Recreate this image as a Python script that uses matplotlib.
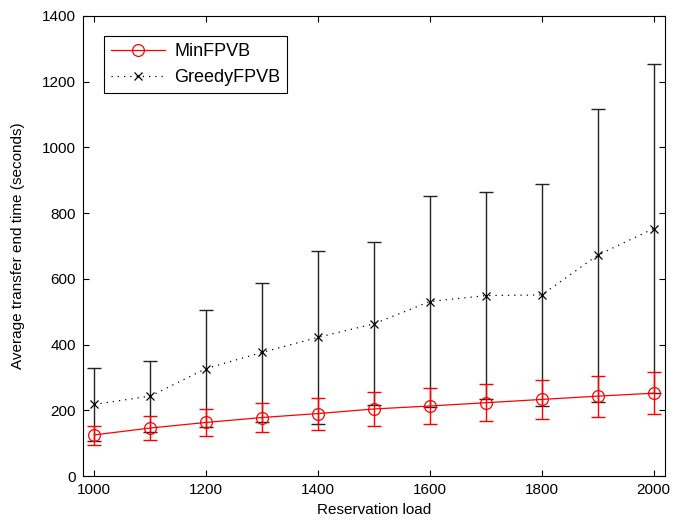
import numpy as np
import matplotlib
matplotlib.use("Agg")
import matplotlib.pyplot as plt

plt.rcParams['font.family'] = ['Liberation Sans', 'DejaVu Sans']

loads = [1000, 1100, 1200, 1300, 1400, 1500, 1600, 1700, 1800, 1900, 2000]

# MinFPVB: mean and error bar ends
min_mean = [125, 146, 163, 178, 190, 204, 213, 223, 233, 243, 252]
min_upper = [151, 182, 203, 222, 237, 255, 268, 280, 292, 304, 317]
min_lower = [95, 111, 123, 133, 141, 151, 159, 167, 174, 180, 188]

# GreedyFPVB: mean and upper error bar end (bars are symmetric)
greedy_mean = [218, 243, 327, 376, 422, 463, 531, 549, 551, 672, 753]
greedy_upper = [330, 351, 505, 587, 686, 711, 853, 865, 888, 1118, 1253]

x = np.array(loads)
mm = np.array(min_mean)
gm = np.array(greedy_mean)
min_err = [mm - np.array(min_lower), np.array(min_upper) - mm]
g_err = np.array(greedy_upper) - gm

fig = plt.figure(figsize=(6.75, 5.24), dpi=100)
ax = fig.add_axes([0.123, 0.0916, 0.862, 0.878])

ax.errorbar(x, gm, yerr=g_err, fmt='none', ecolor='#222222',
            elinewidth=1.0, capsize=5, capthick=1.0, zorder=2)
ax.errorbar(x, mm, yerr=min_err, fmt='none', ecolor='red',
            elinewidth=1.0, capsize=5, capthick=1.0, zorder=3)
ax.plot(x, mm, color='red', lw=0.9, marker='o', ms=8.5, mfc='none',
        mec='red', mew=0.9, label='MinFPVB', zorder=4)
ax.plot(x, gm, color='black', lw=0.9, ls=(0, (1, 4)), marker='x', ms=6,
        mew=0.9, label='GreedyFPVB', zorder=4)

ax.set_xlim(980, 2020)
ax.set_ylim(0, 1400)
ax.set_xticks(range(1000, 2001, 200))
ax.set_yticks(range(0, 1401, 200))
ax.tick_params(direction='in', top=True, right=True, labelsize=11, length=4, pad=5)
ax.set_xlabel('Reservation load', fontsize=11, labelpad=4)
ax.set_ylabel('Average transfer end time (seconds)', fontsize=11, labelpad=12)

leg = ax.legend(loc='upper left', bbox_to_anchor=(0.02, 0.976), fontsize=13,
                fancybox=False, edgecolor='black', framealpha=1,
                handlelength=3.0, borderpad=0.4, labelspacing=0.5,
                handletextpad=0.5)
leg.get_frame().set_linewidth(0.8)

plt.savefig('out.png', dpi=100)
